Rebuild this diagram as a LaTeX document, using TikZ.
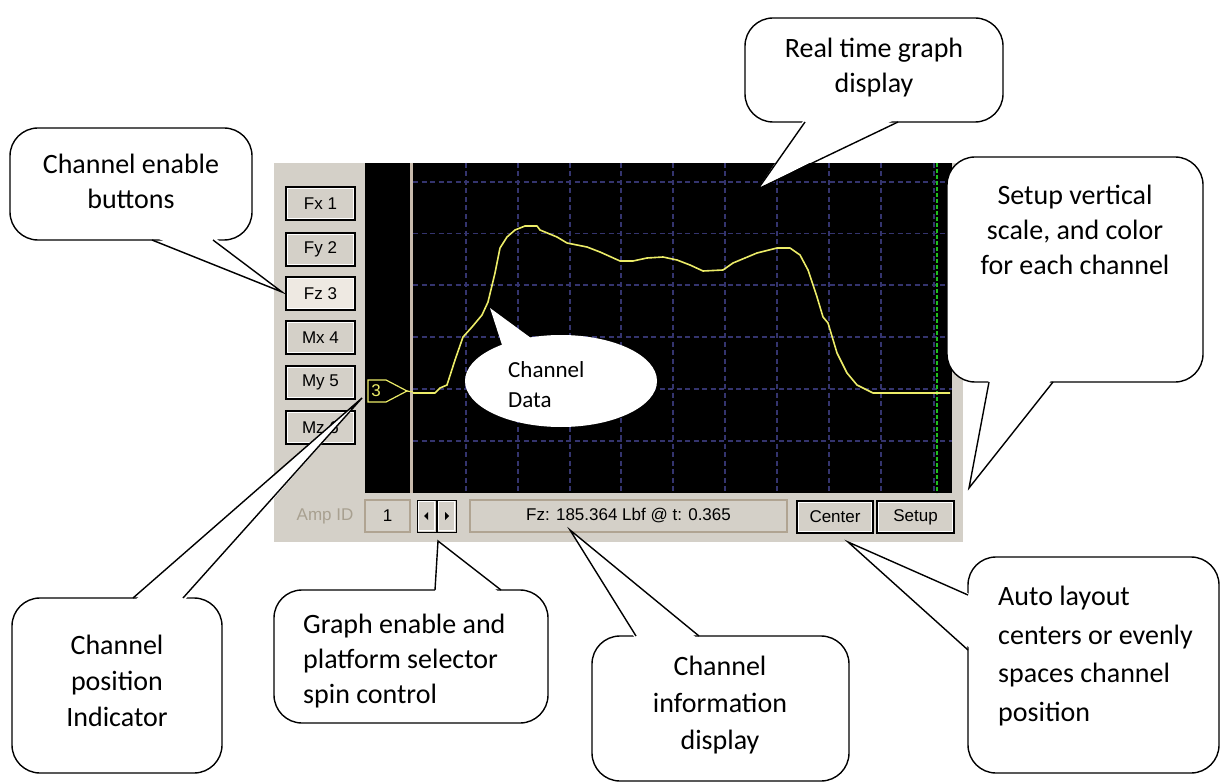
\documentclass[tikz,border=0pt]{standalone}
\usepackage{fontspec}
\setmainfont{Carlito}
\newfontfamily\uifont{Liberation Sans}
\usetikzlibrary{calc,shapes.geometric}
\definecolor{panel}{RGB}{212,208,200}
\definecolor{gridc}{RGB}{52,52,110}
\definecolor{curvec}{RGB}{236,236,104}
\definecolor{divider}{RGB}{200,186,172}
\definecolor{ampgrey}{RGB}{168,160,144}
\definecolor{btnlight}{RGB}{238,233,226}
\definecolor{gridgreen}{RGB}{30,190,30}
\definecolor{sunkc}{RGB}{176,164,146}
\begin{document}
\begin{tikzpicture}[x=1pt,y=-1pt,
  callout/.style={draw=black, line width=1.4pt, fill=white, rounded corners=28pt, inner sep=0pt},
  wedgeline/.style={draw=black, line width=1.4pt, line join=miter},
  calltext/.style={font=\fontsize{28}{35}\selectfont, align=center, inner sep=0pt},
  calltextl/.style={font=\fontsize{28}{35}\selectfont, align=left, inner sep=0pt, anchor=west},
  gridline/.style={draw=gridc, line width=1.2pt, dash pattern=on 5pt off 3.5pt},
  uitext/.style={font=\uifont\fontsize{17}{17}\selectfont},
  chbtn/.style={uitext, draw=black, line width=1.2pt, fill=panel, minimum width=69pt, minimum height=33pt, inner sep=0pt},
  sunken/.style={uitext, draw=sunkc, line width=1.5pt, fill=panel, inner sep=0pt},
  spinbtn/.style={draw=black, line width=1pt, fill=panel, minimum width=19pt, minimum height=32pt, inner sep=0pt}
]
\useasboundingbox (0,0) rectangle (1225,783);
\fill[white] (0,0) rectangle (1225,783);

% ---------- panel ----------
\fill[panel] (274,163) rectangle (963,542);
\fill[black] (365,163) rectangle (952,493);
\draw[divider, line width=3pt] (411,163) -- (411,493);
\foreach \yy in {182,233.5,285,337,389,441}
  \draw[gridline] (413,\yy) -- (952,\yy);
\foreach \xx in {466,518,570,621,673,725,777,829,881,934}
  \draw[gridline] (\xx,163) -- (\xx,493);
\draw[gridgreen, line width=1.2pt, dash pattern=on 4pt off 2pt] (937,163) -- (937,493);

% data curve
\draw[curvec, line width=1.6pt, line join=round]
 (413,393) -- (435,393) -- (440,388) -- (447,385) -- (455,360) -- (463,337) -- (472,327)
 -- (482,315) -- (488,302) -- (495,273) -- (500,248) -- (507,237) -- (515,230) -- (525,226)
 -- (537,226) -- (540,230) -- (557,237) -- (567,243) -- (587,247) -- (600,252) -- (620,261)
 -- (633,261) -- (647,258) -- (663,257) -- (677,260) -- (690,265) -- (703,271) -- (723,270)
 -- (733,263) -- (757,253) -- (777,248) -- (790,248) -- (800,255) -- (808,270) -- (817,297)
 -- (823,317) -- (828,323) -- (837,353) -- (847,373) -- (857,385) -- (867,390) -- (873,393)
 -- (950,393);

% channel position marker
\draw[curvec, line width=1.2pt] (368,380) -- (386,380) -- (407,391) -- (386,402) -- (368,402) -- cycle;
\draw[curvec, line width=1.2pt] (407,391) -- (413,392);
\node[uitext, text=curvec, inner sep=0pt] (m3) at (376,391) {3};

% channel buttons
\node[chbtn] (fx) at (320.5,203.5) {Fx 1};
\node[chbtn] (fy) at (320.5,249.5) {Fy 2};
\node[chbtn, fill=btnlight] (fz) at (320.5,293.5) {Fz 3};
\node[chbtn] (mx) at (320.5,337.5) {Mx 4};
\node[chbtn] (my) at (320.5,382.5) {My 5};
\node[chbtn] (mz) at (320.5,427.5) {Mz 6};

% bottom bar
\node[uitext, text=ampgrey, inner sep=0pt] (amp) at (325,516) {Amp ID};
\node[sunken, minimum width=45pt, minimum height=32pt] (ampbox) at (387.5,516) {1};
\node[spinbtn] (spl) at (426.5,516) {};
\node[spinbtn] (spr) at (446.5,516) {};
\fill[black] (424,516) -- (428,512) -- (428,520) -- cycle;
\fill[black] (449,516) -- (445,512) -- (445,520) -- cycle;
\node[sunken, minimum width=317pt, minimum height=32pt] (info) at (628.5,516) {Fz: 185.364 Lbf @ t: 0.365};
\node[chbtn, minimum width=76pt, minimum height=32pt] (cen) at (835,517) {Center};
\node[chbtn, minimum width=77pt, minimum height=32pt] (set) at (915.5,517) {Setup};
\foreach \n in {fx,fy,fz,mx,my,mz,cen,set,spl,spr}
  \draw[white, line width=1pt] ([shift={(2,2)}]\n.north west) rectangle ([shift={(-2,-2)}]\n.south east);

% ---------- Channel Data bubble ----------
\node[ellipse, fill=white, minimum width=192pt, minimum height=92pt, inner sep=0pt] (cdata) at (561,381) {};
\coordinate (tipd) at (490,308);
\fill[white] (503,348) -- (tipd) -- (535,341) -- cycle;
\node[font=\fontsize{23}{30}\selectfont, align=left, inner sep=0pt, anchor=west] (cdatat) at (508,385) {Channel\\Data};

% ---------- callouts ----------
% 1 Channel enable buttons
\node[callout, minimum width=242pt, minimum height=112pt] (cb1) at (131,184) {};
\coordinate (tip1) at (282,292);
\fill[white] (152,236) -- (tip1) -- (213,236) -- cycle;
\draw[wedgeline] (152,240) -- (tip1) -- (213,240);
\node[calltext] (t1) at (131,181.5) {Channel enable\\buttons};

% 2 Real time graph display
\node[callout, minimum width=258pt, minimum height=104pt] (cb2) at (874,70) {};
\coordinate (tip2) at (758,189);
\fill[white] (805,118) -- (tip2) -- (898,118) -- cycle;
\draw[wedgeline] (805,122) -- (tip2) -- (898,122);
\node[calltext] (t2) at (874,67.5) {Real time graph\\display};

% 3 Setup
\node[callout, minimum width=256pt, minimum height=225pt] (cb3) at (1075,269.5) {};
\coordinate (tip3) at (969,488);
\fill[white] (989,378) -- (tip3) -- (1053,378) -- cycle;
\draw[wedgeline] (989,382) -- (tip3) -- (1053,382);
\node[calltext] (t3) at (1075,230) {Setup vertical\\scale, and color\\for each channel};

% 4 Channel position Indicator
\node[callout, minimum width=210pt, minimum height=175pt] (cb4) at (117,685.5) {};
\coordinate (tip4) at (362,398);
\fill[white] (133,602) -- (tip4) -- (183,602) -- cycle;
\draw[wedgeline] (133,598) -- (tip4) -- (183,598);
\node[calltext, font=\fontsize{28}{36}\selectfont] (t4) at (117,681) {Channel\\position\\Indicator};

% 5 Graph enable
\node[callout, minimum width=274pt, minimum height=133pt] (cb5) at (411,656.5) {};
\coordinate (tip5) at (438,541);
\fill[white] (435,594) -- (tip5) -- (501,594) -- cycle;
\draw[wedgeline] (435,590) -- (tip5) -- (501,590);
\node[calltextl] (t5) at (303,661) {Graph enable and\\platform selector\\spin control};

% 6 Channel information display
\node[callout, minimum width=257pt, minimum height=145pt] (cb6) at (720.5,708.5) {};
\coordinate (tip6) at (570,530);
\fill[white] (636,640) -- (tip6) -- (699,640) -- cycle;
\draw[wedgeline] (636,636) -- (tip6) -- (699,636);
\node[calltext, font=\fontsize{28}{37}\selectfont] (t6) at (720,705) {Channel\\information\\display};

% 7 Auto layout
\node[callout, minimum width=251pt, minimum height=216pt] (cb7) at (1093.5,665) {};
\coordinate (tip7) at (848,542);
\fill[white] (972,595) -- (tip7) -- (972,650) -- cycle;
\draw[wedgeline] (968,595) -- (tip7) -- (968,650);
\node[calltextl, font=\fontsize{28}{38.5}\selectfont] (t7) at (998,656) {Auto layout\\centers or evenly\\spaces channel\\position};
\end{tikzpicture}
\end{document}
